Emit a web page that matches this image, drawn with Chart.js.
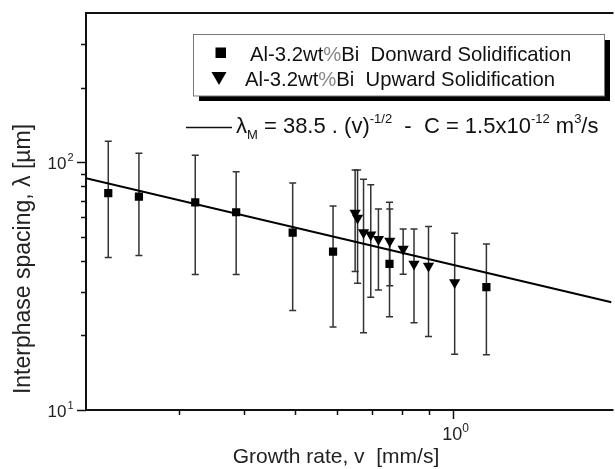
<!DOCTYPE html>
<html>
<head>
<meta charset="utf-8">
<script src="https://cdn.jsdelivr.net/npm/chart.js@4.4.1/dist/chart.umd.min.js"></script>
<style>
body { margin: 0; background: #fff; overflow: hidden; }
#wrap { width: 615px; height: 469px; overflow: hidden; }
</style>
</head>
<body>
<div id="wrap"><canvas id="plot" width="618" height="469"></canvas></div>
<script>
// Al-3.2wt%Bi, downward solidification: growth rate v [mm/s], spacing λ [µm], error bar ends
var downV    = [0.2205, 0.2522, 0.3228, 0.3862, 0.4947, 0.5904, 0.7561, 1.156];
var downLam  = [75.0, 72.6, 68.9, 62.8, 52.0, 43.6, 38.9, 31.3];
var downLow  = [41.2, 42.0, 35.2, 35.2, 25.2, 21.6, 23.8, 16.7];
var downHigh = [121.6, 108.7, 106.7, 91.4, 82.5, 66.6, 68.9, 46.8];

// Al-3.2wt%Bi, upward solidification
var upV    = [0.6504, 0.6574, 0.6748, 0.6965, 0.7203, 0.7571, 0.8027, 0.8418, 0.8970, 1.006];
var upLam  = [62.4, 59.6, 52.0, 50.9, 48.9, 48.1, 44.6, 38.8, 38.1, 32.7];
var upLow  = [36.2, 32.5, 20.5, 28.5, 30.5, 31.7, 35.3, 22.5, 19.8, 16.8];
var upHigh = [93.1, 93.1, 85.4, 81.0, 64.8, 64.8, 53.8, 53.8, 55.0, 51.7];

// fitted law  λM = 38.5 · v^(-1/2)
var fitCoef = 38.5;
var fitExp = -0.5;
var fitEnds = [0.2, 2.0];

// axis ticks
var xMajor = [1];
var xMajorExp = ['0'];
var xMinor = [0.3, 0.4, 0.5, 0.6, 0.7, 0.8, 0.9];
var yMajor = [10, 100];
var yMajorExp = ['1', '2'];
var yMinor = [20, 30, 40, 50, 60, 70, 80, 90, 200, 300];

var FONT = '"Liberation Sans", Arial, sans-serif';

function points(xs, ys) {
    return xs.map((v, i) => ({x: v, y: ys[i]}));
}

function drawBars(ctx, xs, lows, highs, sx, sy) {
    for (let i = 0; i < xs.length; i++) {
        let px = sx.getPixelForValue(xs[i]);
        let top = sy.getPixelForValue(highs[i]);
        let bot = sy.getPixelForValue(lows[i]);
        ctx.beginPath();
        ctx.moveTo(px, top);
        ctx.lineTo(px, bot);
        ctx.moveTo(px - 3.5, top);
        ctx.lineTo(px + 3.5, top);
        ctx.moveTo(px - 3.5, bot);
        ctx.lineTo(px + 3.5, bot);
        ctx.stroke();
    }
}

// draws a run of text pieces, each {t, size, dy}, and returns the end x
function drawPieces(ctx, x, y, pieces) {
    pieces.forEach((p) => {
        ctx.font = p.size + 'px ' + FONT;
        ctx.fillText(p.t, x, y + (p.dy || 0));
        x += ctx.measureText(p.t).width;
    });
    return x;
}

const framePlugin = {
    id: 'frame',
    beforeDatasetsDraw(chart) {
        const ctx = chart.ctx;
        const sx = chart.scales.x, sy = chart.scales.y;
        ctx.save();
        ctx.strokeStyle = '#333';
        ctx.lineWidth = 1.5;
        drawBars(ctx, downV, downLow, downHigh, sx, sy);
        drawBars(ctx, upV, upLow, upHigh, sx, sy);
        ctx.restore();
    },
    afterDraw(chart) {
        const ctx = chart.ctx;
        const area = chart.chartArea;
        const sx = chart.scales.x, sy = chart.scales.y;
        ctx.save();

        // frame lines (left, bottom, top)
        ctx.strokeStyle = '#111';
        ctx.lineWidth = 2;
        ctx.beginPath();
        ctx.moveTo(area.right + 2, area.top);
        ctx.lineTo(area.left, area.top);
        ctx.lineTo(area.left, area.bottom);
        ctx.lineTo(area.right + 2, area.bottom);
        ctx.stroke();

        // tick marks, pointing outward
        ctx.lineWidth = 1.5;
        ctx.beginPath();
        xMinor.forEach((v) => {
            let px = Math.round(sx.getPixelForValue(v)) + 0.5;
            ctx.moveTo(px, area.bottom); ctx.lineTo(px, area.bottom + 5);
        });
        xMajor.forEach((v) => {
            let px = Math.round(sx.getPixelForValue(v)) + 0.5;
            ctx.moveTo(px, area.bottom); ctx.lineTo(px, area.bottom + 9);
        });
        yMinor.forEach((v) => {
            let py = Math.round(sy.getPixelForValue(v)) + 0.5;
            ctx.moveTo(area.left, py); ctx.lineTo(area.left - 5, py);
        });
        yMajor.forEach((v) => {
            let py = Math.round(sy.getPixelForValue(v)) + 0.5;
            ctx.moveTo(area.left, py); ctx.lineTo(area.left - 9, py);
        });
        ctx.stroke();

        // tick labels 10^n
        ctx.fillStyle = '#222';
        ctx.textBaseline = 'alphabetic';
        yMajor.forEach((v, i) => {
            let py = sy.getPixelForValue(v);
            ctx.font = '17px ' + FONT;
            ctx.textAlign = 'right';
            ctx.fillText('10', 66.5, py + 6.5);
            ctx.textAlign = 'left';
            ctx.font = '11px ' + FONT;
            ctx.fillText(yMajorExp[i], 67.5, py - 1);
        });
        xMajor.forEach((v, i) => {
            let px = sx.getPixelForValue(v);
            ctx.font = '18px ' + FONT;
            ctx.textAlign = 'center';
            ctx.fillText('10', px - 1, 440);
            ctx.textAlign = 'left';
            ctx.font = '12px ' + FONT;
            ctx.fillText(xMajorExp[i], px + 9, 432);
        });

        // axis titles
        ctx.font = '21px ' + FONT;
        ctx.textAlign = 'center';
        ctx.fillText('Growth rate, v  [mm/s]', 336, 463);
        ctx.save();
        ctx.translate(30, 259);
        ctx.rotate(-Math.PI / 2);
        ctx.font = '23px ' + FONT;
        ctx.fillText('Interphase spacing, \u03bb [\u00b5m]', 0, 0);
        ctx.restore();

        // legend box with drop shadow
        ctx.fillStyle = '#000';
        ctx.fillRect(199, 40, 411, 61);
        ctx.fillStyle = '#fff';
        ctx.fillRect(193.5, 34.5, 411, 61.5);
        ctx.strokeStyle = '#777';
        ctx.lineWidth = 1;
        ctx.strokeRect(193.5, 34.5, 411, 61.5);

        ctx.fillStyle = '#000';
        ctx.fillRect(215.5, 47.5, 10.5, 10.5);
        ctx.beginPath();
        ctx.moveTo(211.5, 72);
        ctx.lineTo(226.5, 72);
        ctx.lineTo(219, 85);
        ctx.closePath();
        ctx.fill();

        ctx.textAlign = 'left';
        const rows = [['Donward Solidification', 250, 61], ['Upward Solidification', 245, 86]];
        rows.forEach((r) => {
            ctx.font = '20.3px ' + FONT;
            let x = r[1];
            ctx.fillStyle = '#111';
            ctx.fillText('Al-3.2wt', x, r[2]);
            x += ctx.measureText('Al-3.2wt').width;
            ctx.fillStyle = '#888';
            ctx.fillText('%', x, r[2]);
            x += ctx.measureText('%').width;
            ctx.fillStyle = '#111';
            ctx.fillText('Bi  ' + r[0], x, r[2]);
        });

        // fit law note
        ctx.strokeStyle = '#111';
        ctx.lineWidth = 1.6;
        ctx.beginPath();
        ctx.moveTo(186, 127.5);
        ctx.lineTo(232, 127.5);
        ctx.stroke();
        ctx.fillStyle = '#111';
        drawPieces(ctx, 236, 133, [
            {t: '\u03bb', size: 22},
            {t: 'M', size: 13, dy: 6},
            {t: ' = 38.5 . (v)', size: 22},
            {t: '-1/2', size: 13, dy: -10},
            {t: '  -  C = 1.5x10', size: 22},
            {t: '-12', size: 13, dy: -10},
            {t: ' m', size: 22},
            {t: '3', size: 13, dy: -10},
            {t: '/s', size: 22}
        ]);
        ctx.restore();
    }
};

onload = function() {
    const canvas = document.querySelector('#plot');
    const fitPts = fitEnds.map((v) => ({x: v, y: fitCoef * Math.pow(v, fitExp)}));

    new Chart(canvas, {
        type: 'scatter',
        data: {
            datasets: [
                {
                    label: 'Al-3.2wt%Bi Donward Solidification',
                    data: points(downV, downLam),
                    pointStyle: 'rect',
                    pointRadius: 5.8,
                    backgroundColor: '#000',
                    borderColor: '#000',
                    borderWidth: 0,
                    order: 1
                },
                {
                    label: 'Al-3.2wt%Bi Upward Solidification',
                    data: points(upV, upLam),
                    pointStyle: 'triangle',
                    rotation: 180,
                    pointRadius: 6.5,
                    backgroundColor: '#000',
                    borderColor: '#000',
                    borderWidth: 0,
                    order: 2
                },
                {
                    type: 'line',
                    label: 'fit',
                    data: fitPts,
                    borderColor: '#000',
                    borderWidth: 2,
                    pointRadius: 0,
                    fill: false,
                    order: 3
                }
            ]
        },
        options: {
            responsive: false,
            animation: false,
            devicePixelRatio: 1,
            layout: { padding: { left: 86, top: 13, right: 0, bottom: 59 } },
            plugins: { legend: { display: false }, tooltip: { enabled: false } },
            scales: {
                x: { type: 'logarithmic', min: 0.2, max: 2.0, display: false },
                y: { type: 'logarithmic', min: 10, max: 400, display: false }
            }
        },
        plugins: [framePlugin]
    });
};
</script>
</body>
</html>
